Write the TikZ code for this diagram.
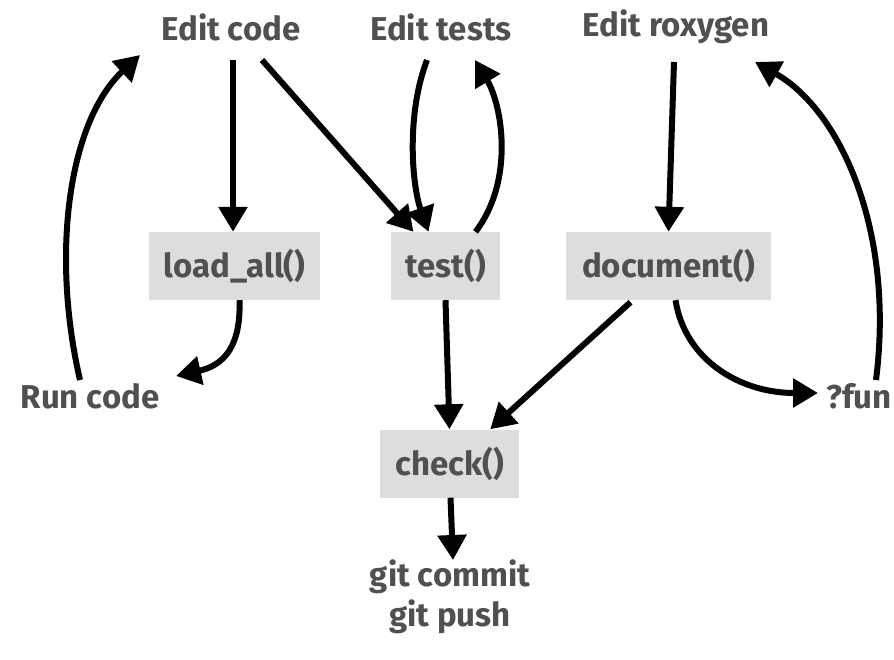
\documentclass[tikz,border=0pt]{standalone}
\usepackage{fontspec}
\setmainfont{Fira Sans}
\usetikzlibrary{arrows.meta,calc}
\definecolor{txt}{RGB}{80,80,80}
\definecolor{boxgray}{RGB}{220,221,223}
\begin{document}
\begin{tikzpicture}[x=1pt,y=-1pt,
  lbl/.style={text=txt,font=\fontsize{33}{40}\selectfont\bfseries,inner sep=0pt},
  box/.style={lbl,fill=boxgray,minimum height=68pt},
  arr/.style={line width=6pt,-{Triangle[length=25pt,width=28pt]}}]
\useasboundingbox (0,0) rectangle (894,659);
\node[lbl] (ec) at (231,27) {Edit code};
\node[lbl] (et) at (441,27) {Edit tests};
\node[lbl] (er) at (676,27) {Edit roxygen};
\node[box,minimum width=171pt] (la) at (234.5,266) {load\_all()};
\node[box,minimum width=109pt] (te) at (445.5,266) {test()};
\node[box,minimum width=205pt] (doc) at (668.5,266) {document()};
\node[box,minimum width=139pt] (ch) at (449.5,463.5) {check()};
\node[lbl] (rc) at (90,396) {Run code};
\node[lbl,anchor=west] (fun) at (826,396) {?fun};
\node[lbl,align=center] (git) at (450,597) {git commit\\git push};

\draw[arr] ($(ec)+(2,33)$) -- ($(la.north)+(-1.5,0)$);
\draw[arr] ($(ec)+(31,33)$) -- ($(te.north)+(-32,0)$);
\draw[arr] ($(et)+(-14,33)$) .. controls (406,115) and (412,185) .. ($(te.north)+(-17,0)$);
\draw[arr] ($(te.north)+(30,0)$) .. controls (515,180) and (502,105) .. ($(et)+(34,33)$);
\draw[arr] ($(er)+(-2,35)$) -- ($(doc.north)+(0,0)$);
\draw[arr] ($(fun.west)+(50,-16)$) .. controls (895,230) and (840,110) .. ($(er)+(79,35)$);
\draw[arr] ($(doc.south)+(7,0)$) .. controls (685,360) and (740,393) .. ($(fun.west)+(-8,-3)$);
\draw[arr] ($(doc.south)+(-38,2)$) -- ($(ch.north east)+(-29,0)$);
\draw[arr] (te.south) -- (ch.north);
\draw[arr] ($(la.south)+(5,0)$) .. controls (241,345) and (225,365) .. ($(rc)+(86,-20)$);
\draw[arr] ($(rc)+(-10,-16)$) .. controls (50,250) and (70,120) .. ($(ec)+(-91,28)$);
\draw[arr] ($(ch.south)+(1,0)$) -- ($(git)+(3,-37)$);
\end{tikzpicture}
\end{document}
